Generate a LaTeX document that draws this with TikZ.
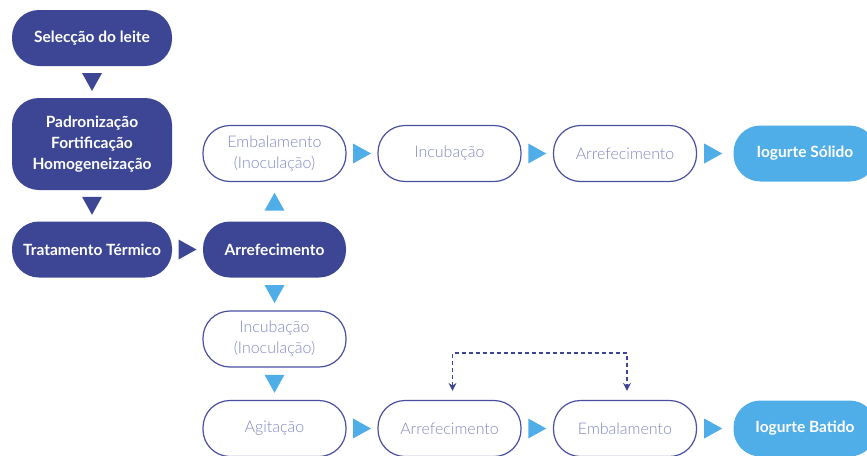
\documentclass[tikz,border=0pt]{standalone}
\usepackage{fontspec}
\setmainfont{Lato}
\newfontfamily\lightfont{Lato Light}
\usetikzlibrary{arrows.meta,calc}
\definecolor{dkblue}{HTML}{3D4694}
\definecolor{ltblue}{HTML}{4FADE8}
\definecolor{outl}{HTML}{4A4F9F}
\definecolor{txtl}{HTML}{8286C2}
\tikzset{
  base/.style={minimum width=143pt, minimum height=56pt, rounded corners=27pt, align=center, inner sep=2pt},
  darkbox/.style={base, fill=dkblue, text=white, font=\fontsize{15.5}{21}\selectfont\bfseries},
  lightbox/.style={base, draw=outl, line width=1.2pt, fill=white, text=txtl, font=\fontsize{16}{21}\selectfont\lightfont},
  endbox/.style={base, fill=ltblue, text=white, font=\fontsize{15.5}{21}\selectfont\bfseries},
  pics/tridown/.style={code={\fill (-10,-9) -- (10,-9) -- (0,9) -- cycle;}},
  pics/triup/.style={code={\fill (-10,9) -- (10,9) -- (0,-9) -- cycle;}},
  pics/triright/.style={code={\fill (-9,-10) -- (-9,10) -- (9,0) -- cycle;}},
}
\begin{document}
\begin{tikzpicture}[x=1pt,y=-1pt]
\useasboundingbox (0,0) rectangle (867,455);
\clip (0,0) rectangle (867,455);
\node[darkbox, minimum width=160pt] (sel) at (92,38) {Selecção do leite};
\node[darkbox, minimum width=160pt, minimum height=92pt] (pad) at (92,144) {Padronização\\Fortificação\\Homogeneização};
\node[darkbox, minimum width=160pt] (trat) at (92,249.5) {Tratamento Térmico};
\node[darkbox] (arr1) at (274.5,249.5) {Arrefecimento};
\node[lightbox] (emb1) at (274.5,153.5) {Embalamento\\(Inoculação)};
\node[lightbox] (inc1) at (449.5,153.5) {Incubação};
\node[lightbox] (arr2) at (625,153.5) {Arrefecimento};
\node[endbox] (sol) at (805,153.5) {Iogurte Sólido};
\node[lightbox] (inc2) at (274.5,339) {Incubação\\(Inoculação)};
\node[lightbox] (agit) at (274.5,428.5) {Agitação};
\node[lightbox] (arr3) at (449.5,428.5) {Arrefecimento};
\node[lightbox] (emb2) at (625,428.5) {Embalamento};
\node[endbox] (bat) at (805,428.5) {Iogurte Batido};
% triangles
\pic[dkblue] at ($(sel.south)!0.5!(pad.north)$) {tridown};
\pic[dkblue] at ($(pad.south)!0.5!(trat.north)$) {tridown};
\pic[dkblue] at ($(trat.east)!0.5!(arr1.west)$) {triright};
\pic[ltblue] at ($(arr1.north)!0.5!(emb1.south)$) {triup};
\pic[ltblue] at ($(emb1.east)!0.5!(inc1.west)$) {triright};
\pic[ltblue] at ($(inc1.east)!0.5!(arr2.west)$) {triright};
\pic[ltblue] at ($(arr2.east)!0.5!(sol.west)+(-2,0)$) {triright};
\pic[ltblue] at ($(arr1.south)!0.5!(inc2.north)$) {tridown};
\pic[ltblue] at ($(inc2.south)!0.5!(agit.north)$) {tridown};
\pic[ltblue] at ($(agit.east)!0.5!(arr3.west)$) {triright};
\pic[ltblue] at ($(arr3.east)!0.5!(emb2.west)$) {triright};
\pic[ltblue] at ($(emb2.east)!0.5!(bat.west)+(-2,0)$) {triright};
% dashed connector
\coordinate (dtop) at (0,353);
\draw[dkblue, line width=1.3pt, dash pattern=on 4pt off 3pt, {Stealth[length=8pt,width=8pt]}-{Stealth[length=8pt,width=8pt]}, shorten <=9pt, shorten >=9pt]
  ($(arr3.north)+(3,0)$) -- ($(arr3.north|-dtop)+(3,0)$) -- ($(emb2.north|-dtop)+(2,0)$) -- ($(emb2.north)+(2,0)$);
\end{tikzpicture}
\end{document}
